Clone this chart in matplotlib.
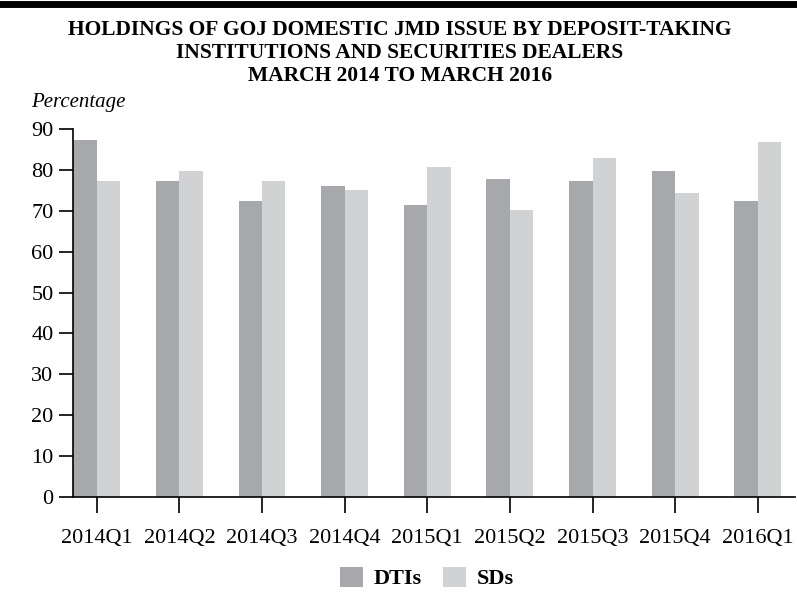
import matplotlib
matplotlib.use("Agg")
import matplotlib.pyplot as plt
import numpy as np
from matplotlib.patches import Patch
from matplotlib.lines import Line2D

categories = ["2014Q1", "2014Q2", "2014Q3", "2014Q4", "2015Q1",
              "2015Q2", "2015Q3", "2015Q4", "2016Q1"]
dtis = [87.3, 77.3, 72.5, 76.0, 71.5, 77.7, 77.3, 79.7, 72.5]
sds = [77.3, 79.7, 77.3, 75.2, 80.7, 70.3, 82.9, 74.3, 86.8]
yticks = [0, 10, 20, 30, 40, 50, 60, 70, 80, 90]
series_names = ["DTIs", "SDs"]
colors = ["#a7a8ab", "#d1d2d4"]

plt.rcParams["font.family"] = ["Liberation Serif", "DejaVu Serif"]

fig = plt.figure(figsize=(7.97, 6.06), dpi=100)
ax = fig.add_axes([73/797, 1 - 497/606, (795 - 73)/797, (497 - 129)/606])

x = np.arange(len(categories))
w = 0.284
ax.bar(x - w/2, dtis, width=w, color=colors[0], label=series_names[0])
ax.bar(x + w/2, sds, width=w, color=colors[1], label=series_names[1])

ax.set_xlim(-0.287, len(categories) - 1 + 0.45)
ax.set_ylim(0, 90)
ax.set_yticks(yticks)
ax.set_xticks(x)
ax.set_xticklabels(categories)
for s in ["top", "right"]:
    ax.spines[s].set_visible(False)
ax.spines["left"].set_linewidth(1.2)
ax.spines["bottom"].set_linewidth(1.2)
ax.tick_params(axis="y", length=10, width=1.2, direction="out", labelsize=16, pad=4)
ax.tick_params(axis="x", length=11.5, width=1.2, direction="out", labelsize=16, pad=11.5)

# thick top rule
fig.add_artist(Line2D([0, 1], [1 - 4/606, 1 - 4/606], color="black", linewidth=5,
                      transform=fig.transFigure))

title = ("HOLDINGS OF GOJ DOMESTIC JMD ISSUE BY DEPOSIT-TAKING\n"
         "INSTITUTIONS AND SECURITIES DEALERS\n"
         "MARCH 2014 TO MARCH 2016")
fig.text(400/797, 1 - 53/606, title, ha="center", va="center", fontsize=15.5,
         fontweight="bold", linespacing=1.2)
fig.text(31/797, 1 - 103/606, "Percentage", ha="left", va="center", fontsize=15,
         fontstyle="italic")

handles = [Patch(facecolor=colors[0]), Patch(facecolor=colors[1])]
fig.legend(handles, series_names, loc="center", bbox_to_anchor=(427/797, 1 - 578/606),
           ncol=2, frameon=False, prop={"weight": "bold", "size": 16},
           handlelength=1.04, handleheight=1.04, handletextpad=0.5, columnspacing=0.95,
           borderpad=0)

fig.savefig("out.png", dpi=100)
